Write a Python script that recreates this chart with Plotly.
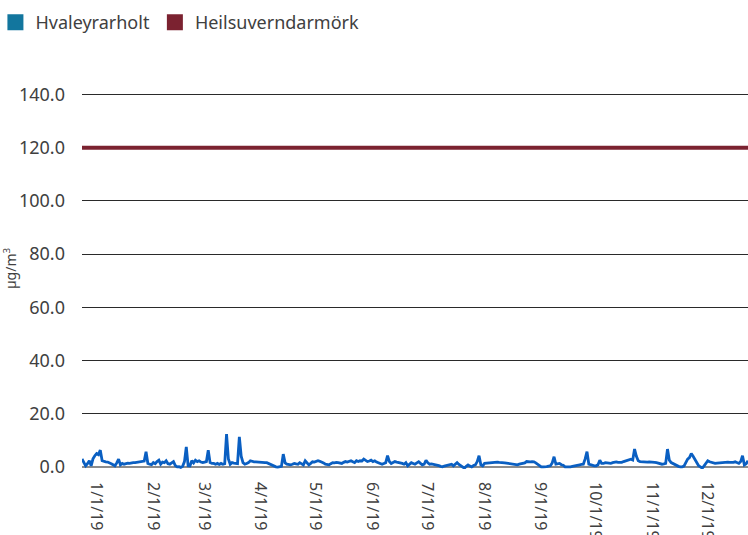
import pandas as pd
import plotly.graph_objects as go

# Daily values Hvaleyrarholt (µg/m³), 2019, per month
jan = [3.0, 1.5, 0.4, 1.2, 2.3, 0.4, 3.0, 4.2, 5.0, 4.6, 6.3, 2.3, 2.0, 1.9, 1.8, 1.6, 1.2, 0.8, 0.4, 1.5,
       2.9, 0.75, 1.3, 1.0, 1.2, 1.4, 1.3, 1.5, 1.6, 1.6, 1.7]
feb = [1.8, 1.9, 2.0, 2.2, 5.7, 1.3, 1.0, 0.8, 1.6, 1.2, 2.0, 2.5, 1.0, 1.8, 1.6, 2.3, 1.2, 1.0, 1.5, 2.0,
       0.5, 0.0, 0.1, -0.2, 0.2, 2.0, 7.5, 0.4]
mar = [0.3, 2.3, 1.5, 2.5, 2.0, 2.3, 1.8, 1.6, 1.8, 2.0, 6.3, 1.6, 1.3, 1.3, 1.0, 1.3, 0.9, 1.3, 1.0, 1.2,
       12.3, 3.0, 1.0, 1.6, 1.4, 1.3, 1.2, 11.3, 4.0, 1.6, 1.0]
apr = [1.3, 1.6, 2.3, 2.0, 1.9, 1.9, 1.8, 1.9, 1.8, 1.7, 1.6, 1.6, 1.3, 1.0, 0.5, 0.1, 0.0, -0.1, 0.0, 0.2,
       4.8, 1.5, 1.0, 0.8, 0.75, 1.0, 1.3, 1.1, 1.0, 1.6]
may = [1.2, 0.75, 2.3, 1.3, 0.75, 1.3, 1.9, 1.8, 2.0, 2.3, 2.1, 1.9, 1.5, 1.0, 0.9, 0.75, 1.2, 1.6, 1.5, 1.7,
       1.6, 1.4, 1.3, 1.7, 2.0, 1.8, 2.1, 2.3, 1.9, 1.6, 2.3]
jun = [2.0, 2.3, 2.2, 2.9, 2.3, 2.0, 2.2, 2.5, 2.0, 2.3, 1.8, 1.6, 1.2, 1.0, 1.3, 1.6, 4.2, 2.0, 1.3, 1.6,
       2.0, 1.8, 1.7, 1.6, 1.3, 1.0, 1.6, 0.4, 1.0, 1.6]
jul = [1.3, 1.0, 1.5, 1.9, 1.3, 0.75, 1.0, 2.5, 1.5, 1.0, 1.1, 1.0, 0.9, 0.75, 0.5, 0.2, 0.0, 0.3, 0.5, 0.75,
       0.9, 1.0, 0.4, 0.9, 1.6, 0.9, 0.4, 0.0, -0.5, 0.2, 0.75]
aug = [0.3, 0.0, 0.5, 0.75, 2.0, 4.2, 0.8, 0.4, 1.3, 1.4, 1.5, 1.6, 1.7, 1.8, 1.9, 1.8, 1.7, 1.7, 1.6, 1.5,
       1.4, 1.3, 1.2, 1.0, 1.0, 0.9, 0.75, 1.0, 1.2, 1.3, 1.5]
sep = [2.0, 1.9, 1.9, 2.0, 1.9, 1.5, 1.0, 0.5, 0.0, 0.0, 0.0, 0.1, 0.3, 0.4, 1.5, 3.8, 1.0, 1.2, 1.3, 0.8,
       0.6, 0.0, 0.0, -0.25, 0.0, 0.2, 0.4, 0.5, 0.7, 0.75]
oct_ = [0.9, 1.0, 3.0, 5.7, 1.0, 0.8, 0.4, 0.4, 0.4, 0.8, 2.5, 1.3, 1.3, 1.6, 1.5, 1.4, 1.3, 1.6, 1.8, 1.9,
        1.7, 1.6, 1.7, 2.0, 2.3, 2.4, 2.6, 2.9, 2.6, 6.7, 4.0]
nov = [2.3, 2.0, 1.9, 1.9, 1.9, 1.8, 1.9, 1.9, 1.8, 1.7, 1.6, 1.4, 1.2, 1.0, 1.1, 1.3, 6.7, 2.5, 1.6, 1.2,
       1.0, 0.6, 0.2, 0.0, 0.0, 0.3, 1.5, 2.9, 3.5, 5.0]
dec = [4.0, 2.9, 1.5, 0.4, 0.0, -0.5, 0.4, 1.3, 2.3, 1.9, 1.6, 1.5, 1.3, 1.4, 1.5, 1.6, 1.7, 1.8, 1.9, 1.8,
       1.7, 1.6, 1.7, 1.9, 1.6, 1.3, 2.0, 4.2, 0.75, 1.2, 2.3]

hvaleyrarholt = jan + feb + mar + apr + may + jun + jul + aug + sep + oct_ + nov + dec
dates = pd.date_range("2019-01-01", "2019-12-31", freq="D")
assert len(hvaleyrarholt) == len(dates), len(hvaleyrarholt)

limit_value = 120.0
heilsuverndarmork = [limit_value] * len(dates)

month_ticks = pd.date_range("2019-01-01", "2019-12-01", freq="MS")
month_labels = ["1/1/19", "2/1/19", "3/1/19", "4/1/19", "5/1/19", "6/1/19",
                "7/1/19", "8/1/19", "9/1/19", "10/1/19", "11/1/19", "12/1/19"]
y_ticks = [0, 20, 40, 60, 80, 100, 120, 140]
y_labels = ["0.0", "20.0", "40.0", "60.0", "80.0", "100.0", "120.0", "140.0"]

series_names = ["Hvaleyrarholt", "Heilsuverndarmörk"]
line_colors = ["#0A5FC2", "#7B2230"]
legend_colors = ["#12769E", "#7B2230"]

FONT = "Noto Sans"
TXT = "#404040"

fig = go.Figure()
fig.add_trace(go.Scatter(x=dates, y=heilsuverndarmork, mode="lines", name=series_names[1],
                         line=dict(color=line_colors[1], width=4.2), showlegend=False))
fig.add_trace(go.Scatter(x=dates, y=hvaleyrarholt, mode="lines", name=series_names[0],
                         line=dict(color=line_colors[0], width=2.8), showlegend=False))
for name, col in zip(series_names, legend_colors):
    fig.add_trace(go.Scatter(x=[None], y=[None], mode="markers", name=name,
                             marker=dict(symbol="square", size=16, color=col)))

fig.update_layout(
    width=748, height=535,
    margin=dict(l=82, r=0, t=68, b=66, autoexpand=False),
    paper_bgcolor="white", plot_bgcolor="white",
    font=dict(family=FONT, color=TXT),
    showlegend=True,
    legend=dict(orientation="h", x=-0.13, xanchor="left", y=0.9925, yref="container", yanchor="top",
                font=dict(size=18, color=TXT), itemwidth=30, tracegroupgap=0,
                bgcolor="rgba(0,0,0,0)"),
    xaxis=dict(type="date", range=[dates[0], dates[-1]], tickvals=month_ticks, ticktext=month_labels,
               tickangle=90, tickfont=dict(size=16, color=TXT), showgrid=False, zeroline=False,
               showline=False, ticks="", ticklabelshift=14, ticklabelstandoff=12, automargin=False),
    yaxis=dict(range=[-0.8, 150], tickvals=y_ticks, ticktext=y_labels,
               tickfont=dict(size=18, color=TXT), showgrid=True, gridcolor="#2a2a2a", gridwidth=1,
               zeroline=True, zerolinecolor="#8c8c8c", zerolinewidth=2, showline=False, ticks="",
               ticklabelstandoff=16, automargin=False,
               title=dict(text="µg/m<sup>3</sup>", font=dict(size=14, color=TXT), standoff=4)),
)

fig.write_html("out.html", config={"displayModeBar": False},
               post_script="document.body.style.margin='0';document.body.style.overflow='hidden';")
